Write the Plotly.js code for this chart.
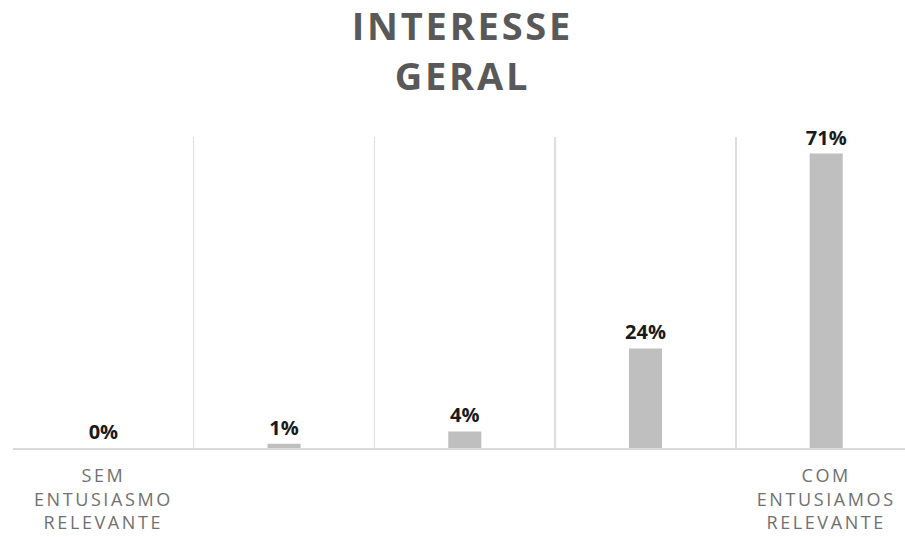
<!DOCTYPE html>
<html>
<head>
<meta charset="utf-8">
<script src="https://cdn.plot.ly/plotly-3.0.1.min.js"></script>
<style>
  html, body { margin: 0; padding: 0; background: #fff; }
  #chart { width: 905px; height: 537px; }
  .xtick text { letter-spacing: 2.6px; }
  .g-gtitle text { letter-spacing: 2.8px; }
</style>
</head>
<body>
<div id="chart"></div>
<script>
// Data
const positions = [0, 1, 2, 3, 4];
const values = [0, 1, 4, 24, 71];
const labels = ['0%', '1%', '4%', '24%', '71%'];
const tickPositions = [0, 4];
const tickLabels = ['SEM<br>ENTUSIASMO<br>RELEVANTE', 'COM<br>ENTUSIAMOS<br>RELEVANTE'];
const boundaries = [-0.5, 0.5, 1.5, 2.5, 3.5];

const trace = {
  type: 'bar',
  x: positions,
  y: values,
  text: labels,
  textposition: 'outside',
  constraintext: 'none',
  cliponaxis: false,
  width: 0.183,
  marker: { color: '#bfbfbf' },
  textfont: { family: 'Open Sans, sans-serif', size: 20, color: '#1a1a1a', weight: 'bold' },
  hoverinfo: 'none'
};

const layout = {
  width: 905,
  height: 537,
  margin: { l: 13, r: 0, t: 137, b: 89 },
  paper_bgcolor: '#ffffff',
  plot_bgcolor: '#ffffff',
  showlegend: false,
  title: {
    text: '<b>INTERESSE<br>GERAL</b>',
    x: 0.511,
    xanchor: 'center',
    y: 0.925,
    yanchor: 'middle',
    font: { family: 'Open Sans, sans-serif', size: 38, color: '#595959' }
  },
  xaxis: {
    type: 'linear',
    range: [-0.5, 4.436],
    tickvals: tickPositions,
    ticktext: tickLabels,
    showgrid: false,
    zeroline: false,
    showline: true,
    linecolor: '#d9d9d9',
    linewidth: 1.5,
    ticks: '',
    ticklabelstandoff: 11,
    tickfont: { family: 'Open Sans, sans-serif', size: 18, color: '#707070' },
    minor: {
      tickvals: boundaries,
      showgrid: true,
      gridcolor: '#dedede',
      gridwidth: 1.5,
      ticks: ''
    },
    fixedrange: true
  },
  yaxis: {
    range: [0, 75],
    showgrid: false,
    zeroline: false,
    showticklabels: false,
    ticks: '',
    fixedrange: true
  }
};

Plotly.newPlot('chart', [trace], layout, { displayModeBar: false, staticPlot: true });
</script>
</body>
</html>
